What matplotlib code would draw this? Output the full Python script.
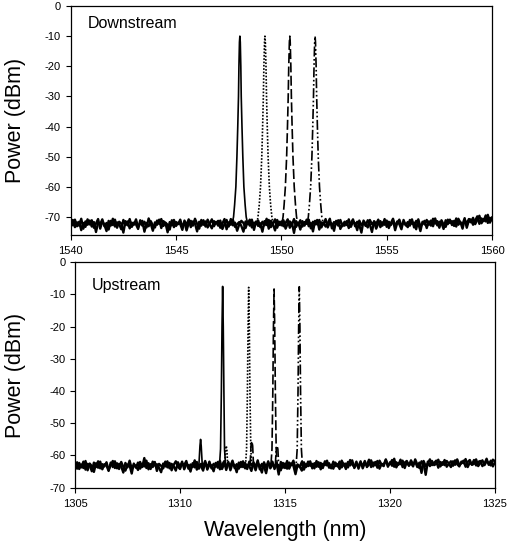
import numpy as np
import matplotlib
matplotlib.use("Agg")
import matplotlib.pyplot as plt

plt.rcParams['font.family'] = ['Liberation Sans', 'DejaVu Sans']
plt.rcParams['axes.unicode_minus'] = False

# ---------------- data ----------------
# Downstream noise floors of two overlapping traces, 1540.0 .. 1560.0 nm every 0.1 nm (dBm)
down_floor_start = 1540.0
down_floor_step = 0.1
down_floor_a = [
    -72.1, -71.0, -73.4, -71.8, -72.9, -70.6, -73.9, -71.5, -72.6, -71.2,
    -73.2, -71.7, -75.0, -71.9, -72.4, -70.8, -73.1, -72.0, -74.2, -71.3,
    -72.7, -70.9, -73.6, -71.6, -72.2, -75.2, -71.4, -72.8, -70.7, -73.3,
    -71.9, -72.5, -74.0, -71.1, -72.9, -71.6, -73.5, -70.5, -72.3, -74.6,
    -71.8, -72.6, -70.9, -73.7, -71.4, -72.1, -75.1, -71.7, -72.8, -71.0,
    -73.0, -71.9, -72.4, -74.3, -71.2, -72.7, -70.8, -73.4, -71.5, -72.2,
    -74.8, -71.6, -72.9, -71.1, -73.2, -70.9, -72.5, -73.8, -71.4, -72.0,
    -71.3, -73.6, -72.2, -70.7, -74.1, -71.8, -72.6, -71.0, -73.3, -72.4,
    -71.7, -73.0, -74.9, -71.5, -72.3, -70.9, -73.5, -71.9, -72.1, -71.2,
    -73.4, -71.6, -72.8, -70.6, -73.9, -71.3, -72.4, -74.5, -71.0, -72.7,
    -71.5, -73.1, -72.0, -70.8, -73.6, -71.9, -75.3, -71.4, -72.6, -71.1,
    -73.2, -71.7, -72.3, -70.9, -73.8, -71.6, -72.5, -71.0, -74.2, -71.8,
    -72.4, -70.7, -73.5, -71.9, -72.2, -74.6, -71.3, -72.9, -71.0, -73.1,
    -71.6, -72.7, -70.8, -73.3, -71.5, -72.1, -74.4, -71.2, -72.8, -71.7,
    -73.0, -71.1, -72.5, -75.0, -71.4, -72.3, -70.9, -73.4, -71.8, -72.6,
    -71.2, -73.7, -72.0, -70.6, -73.2, -71.5, -72.4, -74.1, -71.0, -72.8,
    -71.7, -72.9, -70.8, -73.5, -71.3, -72.2, -74.7, -71.6, -72.5, -71.0,
    -72.6, -71.2, -73.1, -70.5, -72.8, -71.6, -72.0, -74.0, -71.1, -72.4,
    -70.9, -72.7, -71.3, -73.2, -70.6, -71.9, -72.5, -70.4, -73.6, -71.2,
    -71.8, -70.3, -72.4, -71.0, -69.6, -72.1, -70.7, -71.5, -69.3, -71.9,
    -70.2,
]
down_floor_b = [
    -71.4, -72.8, -70.9, -73.1, -71.6, -74.4, -72.0, -73.3, -70.8, -72.5,
    -71.1, -73.6, -72.2, -70.7, -73.9, -71.5, -72.6, -74.7, -71.3, -72.9,
    -70.6, -73.2, -71.8, -72.4, -74.1, -71.0, -72.7, -71.5, -73.8, -71.9,
    -72.6, -70.8, -73.4, -72.1, -71.3, -74.9, -72.0, -73.1, -71.4, -72.8,
    -73.5, -71.2, -72.3, -70.7, -73.0, -71.9, -72.6, -74.2, -71.1, -73.4,
    -71.7, -72.4, -70.9, -73.3, -71.8, -74.5, -72.1, -71.3, -72.9, -70.6,
    -72.3, -73.9, -71.0, -72.6, -71.5, -73.5, -72.2, -70.8, -73.1, -71.7,
    -72.9, -71.2, -74.0, -72.4, -71.0, -73.2, -70.7, -72.8, -71.9, -74.6,
    -72.5, -71.3, -72.0, -73.7, -71.6, -72.9, -70.9, -74.3, -71.5, -73.0,
    -72.1, -74.9, -71.4, -72.7, -71.0, -73.4, -72.3, -70.8, -73.6, -71.6,
    -72.8, -71.1, -73.9, -72.2, -71.5, -72.6, -70.7, -73.3, -71.9, -74.2,
    -71.4, -72.9, -70.9, -73.1, -72.0, -74.8, -71.3, -72.5, -71.0, -73.5,
    -71.9, -73.2, -72.1, -70.6, -73.8, -71.7, -72.4, -71.1, -74.0, -72.3,
    -72.9, -71.4, -73.7, -72.0, -70.8, -73.1, -71.6, -72.7, -75.2, -71.2,
    -72.3, -73.5, -71.0, -72.4, -71.7, -73.9, -72.2, -71.4, -72.9, -70.7,
    -73.3, -71.6, -72.7, -71.1, -74.4, -72.0, -70.9, -73.0, -71.8, -72.5,
    -73.4, -71.0, -72.3, -71.9, -74.1, -70.8, -73.2, -72.1, -71.3, -73.7,
    -71.5, -72.9, -70.6, -72.2, -71.4, -73.6, -71.1, -72.5, -73.3, -70.9,
    -72.0, -71.4, -73.0, -70.5, -72.6, -71.7, -73.9, -71.0, -72.2, -70.7,
    -70.9, -72.6, -71.2, -69.8, -72.3, -70.5, -71.4, -69.5, -72.0, -70.3,
    -71.1,
]

# Downstream channel peaks (wavelength nm, power dBm)
down_ch1_wl = [1547.67, 1547.73, 1547.78, 1547.84, 1547.89, 1547.93, 1547.965, 1547.985, 1548.01, 1548.03,
               1548.05, 1548.075, 1548.095, 1548.13, 1548.17, 1548.22, 1548.28, 1548.33, 1548.39]
down_ch1_pw = [-72, -70, -66, -60, -50, -40, -30, -20, -12, -10, -12, -20, -30, -40, -50, -60, -66, -70, -72]
down_ch2_wl = [1548.84, 1548.89, 1548.95, 1549.01, 1549.07, 1549.11, 1549.145, 1549.17, 1549.20, 1549.22,
               1549.24, 1549.27, 1549.295, 1549.33, 1549.37, 1549.43, 1549.49, 1549.55, 1549.60]
down_ch2_pw = [-72, -70, -66, -60, -50, -40, -30, -20, -12, -10, -12, -20, -30, -40, -50, -60, -66, -70, -72]
down_ch3_wl = [1550.03, 1550.08, 1550.13, 1550.19, 1550.25, 1550.29, 1550.325, 1550.35, 1550.38, 1550.40,
               1550.42, 1550.45, 1550.475, 1550.51, 1550.55, 1550.61, 1550.67, 1550.72, 1550.78]
down_ch3_pw = [-72, -70, -66, -60, -50, -40, -30, -20, -12, -10, -12, -20, -30, -40, -50, -60, -66, -70, -72]
down_ch4_wl = [1551.23, 1551.28, 1551.33, 1551.39, 1551.45, 1551.49, 1551.525, 1551.55, 1551.58, 1551.60,
               1551.62, 1551.65, 1551.675, 1551.71, 1551.75, 1551.81, 1551.87, 1551.92, 1551.98]
down_ch4_pw = [-72, -70, -66, -60, -50, -40, -30, -20, -12, -10, -12, -20, -30, -40, -50, -60, -66, -70, -72]

# Upstream noise floors of two overlapping traces, 1305.0 .. 1325.0 nm every 0.1 nm (dBm)
up_floor_start = 1305.0
up_floor_step = 0.1
up_floor_a = [
    -63.5, -62.1, -64.2, -62.8, -63.9, -61.7, -64.6, -62.5, -63.3, -65.1,
    -62.4, -63.8, -61.9, -64.3, -62.7, -63.1, -64.8, -62.2, -63.6, -61.8,
    -64.0, -62.6, -63.4, -65.3, -62.3, -63.7, -61.6, -64.1, -62.9, -63.2,
    -64.5, -62.0, -63.6, -60.8, -63.9, -62.4, -64.2, -61.9, -63.1, -62.7,
    -63.8, -65.2, -62.5, -63.4, -61.8, -64.0, -62.6, -63.3, -64.7, -62.1,
    -63.5, -61.9, -64.3, -62.8, -63.0, -65.0, -62.4, -63.7, -62.0, -64.1,
    -62.6, -63.4, -61.7, -64.4, -62.9, -63.2, -64.9, -62.3, -63.8, -61.6,
    -64.2, -62.7, -63.5, -62.0, -64.6, -62.5, -63.1, -65.2, -62.2, -63.6,
    -61.8, -64.0, -62.9, -63.3, -64.8, -62.1, -63.7, -61.5, -64.3, -62.6,
    -63.4, -65.5, -62.4, -63.0, -61.9, -64.2, -62.8, -63.5, -64.6, -62.3,
    -63.9, -61.7, -64.1, -62.5, -63.2, -65.8, -62.9, -63.6, -62.0, -64.4,
    -62.7, -63.3, -61.8, -64.0, -62.4, -63.5, -62.1, -64.3, -62.6, -63.0,
    -61.6, -63.8, -62.9, -64.1, -62.2, -63.4, -61.9, -63.7, -62.5, -64.2,
    -62.0, -63.1, -61.5, -63.9, -62.7, -63.3, -61.8, -64.0, -62.4, -62.9,
    -61.3, -63.6, -62.2, -63.0, -61.7, -64.1, -62.6, -62.8, -61.4, -63.5,
    -62.1, -63.2, -61.0, -63.7, -62.4, -62.7, -61.6, -63.9, -62.0, -63.1,
    -61.5, -62.8, -61.9, -63.6, -62.2, -65.4, -61.7, -63.3, -62.5, -61.2,
    -63.0, -62.3, -61.6, -63.8, -62.0, -62.9, -61.4, -63.5, -62.6, -61.8,
    -63.2, -61.5, -62.7, -63.4, -61.9, -62.4, -61.1, -63.6, -62.2, -62.8,
    -61.4, -63.1, -62.0, -61.7, -63.3, -62.5, -61.0, -62.9, -61.6, -63.4,
    -62.0,
]
up_floor_b = [
    -62.9, -64.1, -62.3, -63.7, -61.9, -64.4, -62.6, -63.0, -64.9, -62.2,
    -63.6, -61.8, -64.0, -62.7, -63.4, -62.1, -64.5, -63.0, -61.7, -63.9,
    -62.4, -64.2, -62.0, -63.5, -64.7, -62.8, -63.1, -65.6, -62.5, -63.8,
    -62.2, -64.1, -62.9, -63.4, -61.6, -64.3, -62.7, -63.6, -62.0, -64.8,
    -62.6, -63.2, -64.0, -61.9, -63.7, -62.3, -64.6, -62.9, -61.8, -63.5,
    -64.2, -62.5, -63.0, -61.7, -64.1, -62.8, -63.6, -61.5, -64.4, -62.9,
    -63.3, -64.7, -62.1, -63.8, -61.9, -64.0, -62.6, -63.5, -62.0, -64.3,
    -63.0, -61.8, -64.5, -62.4, -63.2, -61.6, -63.9, -62.7, -64.1, -62.0,
    -63.6, -62.3, -64.2, -61.9, -63.1, -62.8, -64.6, -62.2, -63.5, -65.3,
    -62.1, -63.7, -61.8, -64.0, -62.9, -63.3, -62.4, -65.9, -62.0, -63.8,
    -62.5, -64.1, -62.2, -63.0, -61.6, -64.3, -62.8, -63.4, -64.7, -62.1,
    -63.6, -61.9, -63.2, -62.6, -64.0, -61.7, -63.5, -62.3, -63.9, -61.8,
    -63.1, -62.4, -64.0, -61.9, -63.3, -62.7, -64.2, -61.6, -63.0, -62.5,
    -63.7, -61.4, -62.8, -63.5, -61.9, -64.1, -62.3, -63.2, -61.7, -63.6,
    -62.8, -61.5, -63.4, -62.0, -63.8, -61.6, -62.9, -63.3, -61.2, -63.0,
    -62.6, -61.4, -63.5, -62.1, -62.9, -61.3, -63.6, -62.2, -61.7, -63.2,
    -62.4, -63.4, -61.2, -62.8, -63.9, -61.8, -62.5, -66.0, -61.9, -63.3,
    -61.7, -63.0, -62.6, -61.3, -63.4, -62.1, -63.0, -61.7, -62.5, -63.6,
    -61.8, -62.9, -61.2, -63.0, -62.4, -61.6, -63.5, -62.0, -61.4, -62.9,
    -62.6, -61.2, -63.3, -62.3, -61.5, -63.0, -61.8, -62.4, -63.1, -61.3,
    -61.8,
]

# Upstream channel peaks incl. small side peak (wavelength nm, power dBm)
up_ch1_wl = [1310.90, 1310.95, 1310.98, 1311.01, 1311.06, 1311.88, 1311.93, 1311.97, 1312.00, 1312.03,
             1312.06, 1312.09, 1312.12, 1312.17]
up_ch1_pw = [-63, -57, -55, -57, -63, -63, -58, -40, -20, -7.5, -20, -40, -58, -63]
up_ch2_wl = [1312.13, 1312.17, 1312.20, 1312.23, 1312.27, 1313.12, 1313.17, 1313.21, 1313.24, 1313.27,
             1313.30, 1313.33, 1313.37, 1313.42]
up_ch2_pw = [-63, -58, -57, -58, -63, -63, -58, -40, -20, -7.8, -20, -40, -58, -63]
up_ch3_wl = [1313.34, 1313.38, 1313.42, 1313.46, 1313.50, 1314.33, 1314.38, 1314.42, 1314.45, 1314.48,
             1314.51, 1314.54, 1314.58, 1314.63]
up_ch3_pw = [-63, -57, -55.5, -57, -63, -63, -58, -40, -20, -8.3, -20, -40, -58, -63]
up_ch4_wl = [1314.54, 1314.58, 1314.62, 1314.66, 1314.70, 1315.53, 1315.58, 1315.62, 1315.65, 1315.68,
             1315.71, 1315.74, 1315.78, 1315.83]
up_ch4_pw = [-63, -58, -57, -58, -63, -63, -58, -40, -20, -7.6, -20, -40, -58, -63]

down_xticks = [1540, 1545, 1550, 1555, 1560]
down_yticks = [0, -10, -20, -30, -40, -50, -60, -70]
up_xticks = [1305, 1310, 1315, 1320, 1325]
up_yticks = [0, -10, -20, -30, -40, -50, -60, -70]

# ---------------- styles ----------------
styles = ['-', (0, (1, 1)), (0, (6, 2)), (0, (6, 1.5, 1, 1.5, 1, 1.5))]

fig = plt.figure(figsize=(5.12, 5.51), dpi=100)
ax1 = fig.add_axes([0.1381, 0.5735, 0.8229, 0.4156])
ax2 = fig.add_axes([0.1465, 0.1149, 0.8203, 0.4091])


def style_axes(ax, xticks, yticks, xlim, ylim):
    ax.set_xlim(*xlim)
    ax.set_ylim(*ylim)
    ax.set_xticks(xticks)
    ax.set_yticks(yticks)
    ax.set_xticklabels([str(t) for t in xticks])
    ax.set_yticklabels([str(t) for t in yticks])
    ax.tick_params(direction='out', length=3.5, width=0.8, labelsize=8,
                   top=False, right=False)
    ax.tick_params(axis='x', pad=4.5)
    ax.tick_params(axis='y', pad=3.5)
    for sp in ax.spines.values():
        sp.set_linewidth(0.9)
    ax.set_ylabel('Power (dBm)', fontsize=15.5)


# Downstream
dfx = down_floor_start + down_floor_step * np.arange(len(down_floor_a))
ax1.plot(dfx, down_floor_a, color='black', lw=1.7, zorder=2)
ax1.plot(dfx, down_floor_b, color='black', lw=1.7, zorder=2)
for (wl, pw), ls in zip([(down_ch1_wl, down_ch1_pw), (down_ch2_wl, down_ch2_pw),
                         (down_ch3_wl, down_ch3_pw), (down_ch4_wl, down_ch4_pw)], styles):
    ax1.plot(wl, pw, color='black', lw=1.2, linestyle=ls, zorder=3)
style_axes(ax1, down_xticks, down_yticks, (1540, 1560), (-76, 0))
ax1.yaxis.set_label_coords(-0.106, 0.5)
ax1.text(0.041, 0.903, 'Downstream', transform=ax1.transAxes, fontsize=11.5,
         ha='left', va='baseline')

# Upstream
ufx = up_floor_start + up_floor_step * np.arange(len(up_floor_a))
ax2.plot(ufx, up_floor_a, color='black', lw=1.7, zorder=2)
ax2.plot(ufx, up_floor_b, color='black', lw=1.7, zorder=2)
for (wl, pw), ls in zip([(up_ch1_wl, up_ch1_pw), (up_ch2_wl, up_ch2_pw),
                         (up_ch3_wl, up_ch3_pw), (up_ch4_wl, up_ch4_pw)], styles):
    ax2.plot(wl, pw, color='black', lw=1.2, linestyle=ls, zorder=3)
style_axes(ax2, up_xticks, up_yticks, (1305, 1325), (-70, 0))
ax2.yaxis.set_label_coords(-0.117, 0.5)
ax2.text(0.040, 0.876, 'Upstream', transform=ax2.transAxes, fontsize=11.5,
         ha='left', va='baseline')
ax2.set_xlabel('Wavelength (nm)', fontsize=15.5, labelpad=8)

fig.savefig('out.png', dpi=100)
